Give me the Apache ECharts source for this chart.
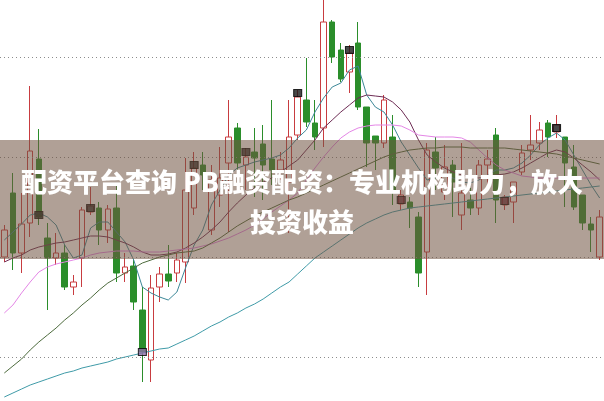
<!DOCTYPE html>
<html><head><meta charset="utf-8">
<script src="https://cdn.jsdelivr.net/npm/echarts@6/dist/echarts.min.js"></script>
<style>html,body{margin:0;padding:0;background:#fff;overflow:hidden}#c{width:604px;height:401px}</style>
</head><body><div id="c"></div>
<script>
// ---- data (prices) ----
const days = Array.from({length: 70}, (_, i) => 'D' + (i + 1));
const openP  = [11.00,11.64,11.04,11.34,11.98,11.19,10.99,11.04,10.70,10.99,11.45,11.49,11.27,11.49,10.84,10.91,10.47,9.97,10.70,10.83,10.84,10.95,11.49,11.92,11.27,11.62,11.94,12.29,11.92,12.05,12.13,11.98,11.87,11.75,12.22,12.57,12.34,12.29,13.35,13.07,12.85,13.14,12.50,12.21,12.14,12.20,11.53,11.55,11.40,11.05,12.05,11.65,11.92,11.42,11.57,11.49,11.92,12.22,11.52,11.55,11.85,12.07,12.14,12.34,12.25,12.20,11.90,11.62,11.33,11.00];
const closeP = [11.27,11.04,11.33,12.06,11.40,10.99,11.04,10.70,10.75,11.47,11.51,11.27,11.48,10.84,10.90,10.55,10.05,10.69,10.83,10.76,10.97,11.67,11.89,11.82,11.77,11.79,12.20,11.94,12.00,11.99,11.92,11.87,11.97,12.20,12.60,12.35,12.20,13.35,13.00,12.78,13.04,12.50,12.14,12.14,12.57,11.67,11.62,11.49,10.84,12.07,11.89,11.90,11.75,11.64,11.49,11.92,11.98,11.57,11.60,11.75,12.04,12.12,12.27,12.20,12.32,11.94,11.50,11.34,11.27,11.40];
const lowP   = [10.95,10.87,10.84,11.20,11.32,10.47,10.92,10.67,10.62,10.70,11.42,11.12,11.14,10.75,10.75,10.47,9.75,9.75,10.55,10.70,10.75,10.74,11.42,11.67,11.22,11.50,11.25,11.82,11.67,11.60,11.57,11.72,11.77,11.24,12.17,12.30,12.07,12.10,12.94,12.75,12.64,12.47,11.90,11.87,12.09,11.52,11.47,11.29,10.70,10.62,11.67,11.57,11.40,11.27,11.42,11.42,11.67,11.34,11.47,11.34,11.82,11.97,12.07,12.00,12.19,11.50,11.47,11.27,11.05,10.97];
const highP  = [11.32,11.84,11.64,12.71,12.28,11.34,11.24,11.12,10.82,11.50,11.70,11.55,11.52,11.72,11.04,10.97,10.70,10.82,10.90,11.12,11.04,11.99,12.05,12.05,11.92,12.10,12.57,12.34,12.09,12.29,12.32,12.57,12.05,12.57,12.67,12.99,12.57,13.62,13.37,13.14,13.12,13.35,12.50,12.21,12.62,12.42,11.67,11.60,11.45,12.14,12.20,12.12,11.97,12.14,11.69,11.97,12.07,12.29,11.62,11.75,12.12,12.42,12.35,12.37,12.42,12.20,12.12,11.62,11.40,11.47];
const ma5  = [11.17,11.25,11.33,11.42,11.44,11.40,11.32,11.12,10.99,11.02,11.29,11.35,11.35,11.25,11.15,10.97,10.70,10.64,10.60,10.57,10.65,10.89,11.12,11.27,11.52,11.67,11.82,11.89,11.92,11.95,11.97,11.99,12.02,12.09,12.19,12.27,12.45,12.59,12.70,12.74,12.87,12.91,12.62,12.50,12.45,12.32,12.15,12.02,11.89,11.77,11.79,11.82,11.79,11.75,11.74,11.77,11.82,11.87,11.87,11.89,11.94,12.02,12.12,12.19,12.24,12.17,12.02,11.87,11.72,11.59];
const ma10 = [10.95,10.99,11.02,11.07,11.10,11.12,11.14,11.15,11.17,11.19,11.21,11.21,11.20,11.17,11.14,11.10,11.05,11.02,11.02,11.03,11.05,11.09,11.14,11.20,11.27,11.35,11.45,11.54,11.62,11.69,11.75,11.79,11.85,11.91,11.97,12.07,12.17,12.29,12.37,12.45,12.52,12.59,12.62,12.61,12.60,12.55,12.47,12.35,12.17,12.02,11.95,11.89,11.85,11.82,11.80,11.79,11.81,11.82,11.83,11.85,11.89,11.94,11.99,12.04,12.07,12.05,11.99,11.92,11.85,11.77];
const ma20 = [10.44,10.52,10.64,10.75,10.85,10.90,10.93,10.95,10.97,10.99,11.02,11.04,11.05,11.06,11.06,11.06,11.05,11.05,11.05,11.06,11.07,11.08,11.09,11.11,11.13,11.16,11.19,11.23,11.27,11.32,11.38,11.45,11.51,11.57,11.64,11.77,11.89,12.00,12.10,12.19,12.25,12.29,12.31,12.32,12.32,12.32,12.31,12.27,12.22,12.21,12.20,12.20,12.20,12.19,12.15,12.07,11.99,11.92,11.87,11.84,11.81,11.80,11.79,11.79,11.79,11.79,11.79,11.79,11.79,11.79];
const ma30 = [9.84,9.91,9.98,10.07,10.15,10.22,10.29,10.37,10.44,10.52,10.59,10.67,10.74,10.79,10.84,10.89,10.94,10.97,11.00,11.02,11.04,11.05,11.06,11.09,11.14,11.19,11.25,11.31,11.36,11.41,11.45,11.49,11.53,11.57,11.60,11.64,11.68,11.72,11.76,11.80,11.84,11.88,11.92,11.96,12.00,12.03,12.05,12.07,12.08,12.09,12.09,12.10,12.10,12.10,12.09,12.09,12.09,12.09,12.09,12.08,12.07,12.06,12.05,12.04,12.03,12.01,11.99,11.97,11.95,11.93];
const ma60 = [9.60,9.64,9.68,9.72,9.75,9.78,9.81,9.84,9.86,9.89,9.91,9.93,9.95,9.98,10.00,10.02,10.04,10.06,10.08,10.09,10.13,10.17,10.21,10.26,10.31,10.35,10.40,10.44,10.49,10.53,10.58,10.64,10.70,10.75,10.83,10.91,10.99,11.05,11.11,11.17,11.23,11.29,11.34,11.38,11.42,11.45,11.47,11.49,11.50,11.51,11.52,11.53,11.54,11.55,11.56,11.57,11.58,11.59,11.60,11.61,11.62,11.63,11.64,11.65,11.66,11.67,11.68,11.69,11.70,11.71];
const markerIdx = [4,10,16,22,28,34,40,46,58,64];
const markerVal = [11.42,11.49,10.05,11.92,12.05,12.64,13.07,11.57,11.56,12.29];
const gridLevels = [13,12,11,10];
const title1 = '配资平台查询 PB融资配资：专业机构助力，放大';
const title2 = '投资收益';

// ---- chart ----
const chart = echarts.init(document.getElementById('c'), null, {renderer: 'canvas'});
const kData = openP.map((o, i) => [o, closeP[i], lowP[i], highP[i]]);
const markerColors = ['#1a1a1a','#1a1a1a','#8f6fa6','#1a1a1a','#1a1a1a','#1a1a1a','#1a1a1a','#5a1a2a','#5a1a2a','#1a1a1a'];
const lineS = (name, data, color) => ({
  name, type: 'line', data, symbol: 'none', smooth: false, silent: true,
  lineStyle: {color, width: 1}, z: 3
});
const titleFont = '900 26px "Noto Sans CJK SC", "Noto Sans", sans-serif';
chart.setOption({
  animation: false,
  backgroundColor: '#ffffff',
  grid: {left: -2.36, top: 0, width: 610.76, height: 401, containLabel: false},
  xAxis: {type: 'category', data: days, boundaryGap: true, show: false},
  yAxis: {type: 'value', min: 9.56, max: 13.57, show: false, splitLine: {show: false}, scale: true},
  series: [
    {
      name: 'grid', type: 'line', data: [], silent: true,
      markLine: {
        silent: true, symbol: 'none', label: {show: false},
        lineStyle: {color: '#8c8c8c', type: [1, 3], width: 1},
        data: gridLevels.map(v => ({yAxis: v}))
      }
    },
    {
      name: 'K', type: 'candlestick', data: kData, barWidth: 6, silent: true, z: 2,
      itemStyle: {color: 'rgba(255,255,255,0)', color0: '#2b8e2b', borderColor: '#c83c40', borderColor0: '#2b8e2b', borderWidth: 1}
    },
    lineS('MA5', ma5, '#3d8898'),
    lineS('MA10', ma10, '#6e2d55'),
    lineS('MA20', ma20, '#e486e6'),
    lineS('MA30', ma30, '#4d6b3d'),
    lineS('MA60', ma60, '#3f9ba8'),
    {
      name: 'mark', type: 'scatter', symbol: 'rect', symbolSize: [8, 7], silent: true, z: 4,
      data: markerIdx.map((x, i) => ({value: [x, markerVal[i]], itemStyle: {color: markerColors[i], borderColor: '#000', borderWidth: 1}}))
    }
  ],
  graphic: [
    {type: 'rect', z: 100, silent: true, shape: {x: 0, y: 140, width: 604, height: 119}, style: {fill: 'rgba(112,82,64,0.55)'}},
    {type: 'text', z: 101, silent: true, x: 302, y: 182, style: {text: title1, align: 'center', textAlign: 'center', verticalAlign: 'middle', textVerticalAlign: 'middle', fill: '#ffffff', font: titleFont}},
    {type: 'text', z: 101, silent: true, x: 302, y: 222, style: {text: title2, align: 'center', textAlign: 'center', verticalAlign: 'middle', textVerticalAlign: 'middle', fill: '#ffffff', font: titleFont}}
  ]
});
</script>
</body></html>
